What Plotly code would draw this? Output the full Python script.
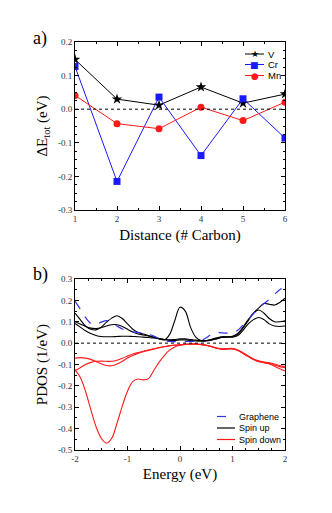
import plotly.graph_objects as go

# ---------------- Panel a data ----------------
distance = [1, 2, 3, 4, 5, 6]
dE_V = [0.148, 0.030, 0.012, 0.066, 0.018, 0.045]
dE_Cr = [0.127, -0.215, 0.036, -0.138, 0.031, -0.086]
dE_Mn = [0.041, -0.043, -0.058, 0.006, -0.034, 0.021]

# ---------------- Panel b data ----------------
energy = [-2.0, -1.9, -1.8, -1.7, -1.6, -1.5, -1.4, -1.3, -1.2, -1.1, -1.0,
          -0.9, -0.8, -0.7, -0.6, -0.5, -0.4, -0.3, -0.2, -0.1, 0.0,
          0.1, 0.2, 0.3, 0.4, 0.5, 0.6, 0.7, 0.8, 0.9, 1.0,
          1.1, 1.2, 1.3, 1.4, 1.5, 1.6, 1.7, 1.8, 1.9, 2.0]
graphene = [0.195, 0.16, 0.12, 0.092, 0.088, 0.098, 0.105, 0.095, 0.08, 0.066, 0.058,
            0.053, 0.05, 0.046, 0.041, 0.033, 0.022, 0.012, 0.008, 0.007, 0.007,
            0.007, 0.008, 0.009, 0.012, 0.025, 0.042, 0.05, 0.048, 0.047, 0.048,
            0.06, 0.085, 0.11, 0.138, 0.165, 0.185, 0.205, 0.228, 0.25, 0.262]
up_1 = [0.14, 0.11, 0.08, 0.065, 0.062, 0.075, 0.098, 0.117, 0.128, 0.115, 0.09,
        0.065, 0.05, 0.043, 0.035, 0.028, 0.02, 0.015, 0.04, 0.105, 0.168,
        0.15, 0.075, 0.028, 0.012, 0.012, 0.018, 0.025, 0.03, 0.03, 0.032,
        0.045, 0.075, 0.11, 0.14, 0.165, 0.185, 0.182, 0.178, 0.19, 0.21]
up_2 = [0.10, 0.09, 0.078, 0.07, 0.068, 0.072, 0.08, 0.086, 0.086, 0.078, 0.065,
        0.052, 0.043, 0.038, 0.033, 0.028, 0.022, 0.017, 0.015, 0.017, 0.02,
        0.02, 0.017, 0.014, 0.012, 0.012, 0.016, 0.022, 0.028, 0.03, 0.03,
        0.04, 0.07, 0.105, 0.14, 0.155, 0.14, 0.115, 0.10, 0.10, 0.105]
up_3 = [0.092, 0.075, 0.058, 0.045, 0.036, 0.031, 0.03, 0.03, 0.031, 0.032, 0.032,
        0.031, 0.03, 0.028, 0.026, 0.024, 0.02, 0.016, 0.013, 0.013, 0.015,
        0.015, 0.013, 0.01, 0.009, 0.01, 0.014, 0.02, 0.026, 0.028, 0.028,
        0.035, 0.06, 0.09, 0.11, 0.12, 0.11, 0.09, 0.08, 0.078, 0.08]
down_1 = [-0.125, -0.16, -0.225, -0.31, -0.39, -0.445, -0.468, -0.445, -0.375, -0.295, -0.225,
          -0.18, -0.168, -0.172, -0.166, -0.128, -0.09, -0.058, -0.033, -0.018, -0.01,
          -0.006, -0.004, -0.004, -0.006, -0.01, -0.016, -0.024, -0.029, -0.028, -0.027,
          -0.034, -0.048, -0.063, -0.077, -0.087, -0.092, -0.097, -0.108, -0.12, -0.13]
down_2 = [-0.07, -0.068, -0.07, -0.076, -0.086, -0.097, -0.105, -0.106, -0.098, -0.085, -0.07,
          -0.058, -0.048, -0.04, -0.034, -0.028, -0.022, -0.017, -0.013, -0.01, -0.008,
          -0.006, -0.005, -0.005, -0.007, -0.011, -0.017, -0.024, -0.028, -0.027, -0.026,
          -0.033, -0.047, -0.062, -0.076, -0.085, -0.09, -0.094, -0.102, -0.11, -0.115]
down_3 = [-0.128, -0.115, -0.1, -0.09, -0.085, -0.084, -0.085, -0.085, -0.08, -0.071, -0.06,
          -0.051, -0.044, -0.038, -0.032, -0.026, -0.021, -0.016, -0.012, -0.009, -0.007,
          -0.005, -0.004, -0.004, -0.006, -0.01, -0.016, -0.023, -0.027, -0.026, -0.025,
          -0.032, -0.045, -0.06, -0.074, -0.083, -0.088, -0.092, -0.098, -0.105, -0.11]

a_yticks = [-0.3, -0.2, -0.1, 0.0, 0.1, 0.2]
a_yticktext = ["-0.3", "-0.2", "-0.1", "0.0", "0.1", "0.2"]
b_yticks = [-0.5, -0.4, -0.3, -0.2, -0.1, 0.0, 0.1, 0.2, 0.3]
b_yticktext = ["-0.5", "-0.4", "-0.3", "-0.2", "-0.1", "0.0", "0.1", "0.2", "0.3"]
b_xticks = [-2, -1, 0, 1, 2]
b_xticktext = ["-2", "-1", "0", "1", "2"]

W, H = 332, 513
L, R, T, B = 75, 47, 42, 63
PW, PH = W - L - R, H - T - B


def py(sy):  # screen y -> paper y
    return (H - B - sy) / PH


def px(sx):  # screen x -> paper x
    return (sx - L) / PW


SERIF = "Liberation Serif, Times New Roman, serif"
SANS = "Liberation Sans, Arial, sans-serif"

fig = go.Figure()

# panel a
fig.add_trace(go.Scatter(x=distance, y=dE_V, mode="lines+markers", name="V",
                         line=dict(color="black", width=1),
                         marker=dict(symbol="star", size=8, color="black"),
                         xaxis="x", yaxis="y", showlegend=False))
fig.add_trace(go.Scatter(x=distance, y=dE_Cr, mode="lines+markers", name="Cr",
                         line=dict(color="#1a1aff", width=1),
                         marker=dict(symbol="square", size=7, color="#1a1aff"),
                         xaxis="x", yaxis="y", showlegend=False))
fig.add_trace(go.Scatter(x=distance, y=dE_Mn, mode="lines+markers", name="Mn",
                         line=dict(color="#ff1a1a", width=1),
                         marker=dict(symbol="circle", size=7, color="#ff1a1a"),
                         xaxis="x", yaxis="y", showlegend=False))

# panel b
for ys in (up_1, up_2, up_3):
    fig.add_trace(go.Scatter(x=energy, y=ys, mode="lines",
                             line=dict(color="black", width=1.1, shape="spline", smoothing=1.0),
                             xaxis="x2", yaxis="y2", showlegend=False))
for ys in (down_1, down_2, down_3):
    fig.add_trace(go.Scatter(x=energy, y=ys, mode="lines",
                             line=dict(color="#ff1a1a", width=1.1, shape="spline", smoothing=1.0),
                             xaxis="x2", yaxis="y2", showlegend=False))
fig.add_trace(go.Scatter(x=energy, y=graphene, mode="lines",
                         line=dict(color="#3333ee", width=1.2, dash="dash", shape="spline", smoothing=1.0),
                         xaxis="x2", yaxis="y2", showlegend=False))

axis_common = dict(showline=True, linecolor="black", linewidth=1, mirror="allticks",
                   ticks="inside", ticklen=4, tickcolor="black", showgrid=False,
                   zeroline=False, automargin=False,
                   tickfont=dict(family=SERIF, size=9, color="#333"))

ya_dom = [py(210), py(42)]
yb_dom = [py(450), py(279)]

fig.update_layout(
    width=W, height=H, margin=dict(l=L, r=R, t=T, b=B),
    paper_bgcolor="white", plot_bgcolor="white",
    xaxis=dict(axis_common, domain=[0, 1], range=[1, 6], dtick=1, anchor="y",
               minor=dict(ticks="inside", ticklen=2, dtick=0.5, tickcolor="black"),
               title=dict(text="Distance (# Carbon)", font=dict(family=SERIF, size=15, color="black"), standoff=6)),
    yaxis=dict(axis_common, domain=ya_dom, range=[-0.3, 0.2], tickvals=a_yticks, ticktext=a_yticktext,
               anchor="x",
               minor=dict(ticks="inside", ticklen=2, dtick=0.025, tickcolor="black"),
               title=dict(text="ΔE<sub>tot</sub> (eV)", font=dict(family=SERIF, size=15, color="black"), standoff=6)),
    xaxis2=dict(axis_common, domain=[0, 1], range=[-2, 2], tickvals=b_xticks, ticktext=b_xticktext,
                anchor="y2",
                minor=dict(ticks="inside", ticklen=2, dtick=0.25, tickcolor="black"),
                title=dict(text="Energy (eV)", font=dict(family=SERIF, size=15, color="black"), standoff=5)),
    yaxis2=dict(axis_common, domain=yb_dom, range=[-0.5, 0.3], tickvals=b_yticks, ticktext=b_yticktext,
                anchor="x2",
                minor=dict(ticks="inside", ticklen=2, dtick=0.05, tickcolor="black"),
                title=dict(text="PDOS (1/eV)", font=dict(family=SERIF, size=15, color="black"), standoff=6)),
    showlegend=False,
)

# zero dotted lines
for yref, xref in (("y", "x domain"), ("y2", "x2 domain")):
    fig.add_shape(type="line", xref=xref, yref=yref, x0=0, x1=1, y0=0, y1=0,
                  line=dict(color="black", width=1, dash="dot"))

# panel labels
fig.add_annotation(text="a)", xref="paper", yref="paper", x=px(31), y=py(38),
                   xanchor="left", yanchor="middle", showarrow=False,
                   font=dict(family=SERIF, size=18, color="black"))
fig.add_annotation(text="b)", xref="paper", yref="paper", x=px(31), y=py(274),
                   xanchor="left", yanchor="middle", showarrow=False,
                   font=dict(family=SERIF, size=18, color="black"))

# manual legend for panel a
leg_a = [("V", "black", "★", 54), ("Cr", "#1a1aff", "■", 64.5), ("Mn", "#ff1a1a", "●", 75.5)]
for name, col, sym, sy in leg_a:
    fig.add_shape(type="line", xref="paper", yref="paper", x0=px(245), x1=px(264),
                  y0=py(sy), y1=py(sy), line=dict(color=col, width=1))
    fig.add_annotation(text=sym, xref="paper", yref="paper", x=px(254.5), y=py(sy),
                       xanchor="center", yanchor="middle", showarrow=False,
                       font=dict(family="DejaVu Sans", size=9, color=col))
    fig.add_annotation(text=name, xref="paper", yref="paper", x=px(266), y=py(sy),
                       xanchor="left", yanchor="middle", showarrow=False,
                       font=dict(family=SANS, size=9.5, color="black"))

# manual legend for panel b
leg_b = [("Graphene", "#3333ee", "dash", 416.5), ("Spin up", "black", "solid", 428),
         ("Spin down", "#ff1a1a", "solid", 439.5)]
for name, col, dash, sy in leg_b:
    fig.add_shape(type="line", xref="paper", yref="paper", x0=px(217), x1=px(235),
                  y0=py(sy), y1=py(sy), line=dict(color=col, width=1.2, dash=dash))
    fig.add_annotation(text=name, xref="paper", yref="paper", x=px(237), y=py(sy),
                       xanchor="left", yanchor="middle", showarrow=False,
                       font=dict(family=SANS, size=9, color="black"))

fig.write_html("out.html", config={"displayModeBar": False})

# remove the default page margin so the figure sits at the window origin
with open("out.html", "r", encoding="utf-8") as f:
    html = f.read()
html = html.replace("<head>", "<head><style>html,body{margin:0;padding:0;overflow:hidden;}</style>", 1)
with open("out.html", "w", encoding="utf-8") as f:
    f.write(html)
